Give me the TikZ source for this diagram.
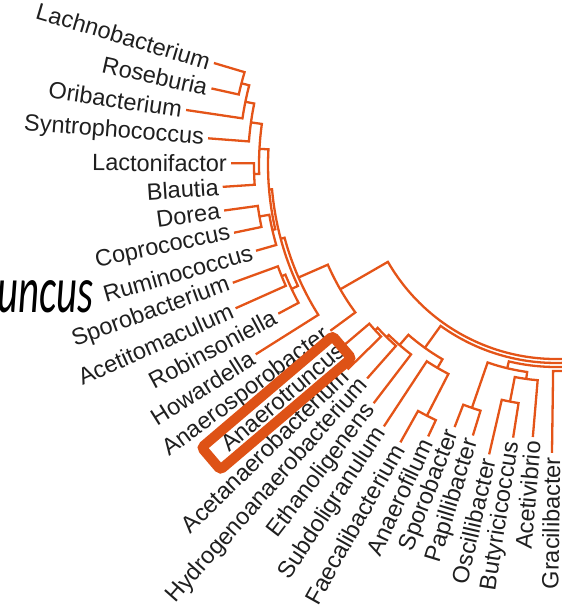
\documentclass[tikz,border=0pt]{standalone}
\usepackage{fontspec}
\setmainfont{Liberation Sans}
\newfontfamily\calfont{Carlito}
\usetikzlibrary{calc}
\definecolor{treec}{RGB}{228,84,24}
\definecolor{boxc}{RGB}{222,82,22}
\newcommand\tclade[5]{\draw[tree] ($(C)+(#1:#2)$) -- ($(C)+(#1:#5)$) arc[start angle=#1,end angle=#3,radius=#5] -- ($(C)+(#3:#4)$);}
\newcommand\topen[4]{\draw[tree] ($(C)+(#1:#2)$) -- ($(C)+(#1:#4)$) arc[start angle=#1,end angle=#3,radius=#4];}
\begin{document}
\begin{tikzpicture}[x=1pt,y=1pt,
  tree/.style={draw=treec,line width=2.3pt},
  lab/.style={font=\fontsize{23.5}{26}\selectfont, inner sep=1pt, anchor=east, text=black!88}]
\useasboundingbox (0,-608) rectangle (562,0);
\clip (0,-608) rectangle (562,0);
\coordinate (C) at (556,-165);
% upper clade
\tclade{163.4}{357}{167.47}{353}{325}
\tclade{165.44}{325}{171.54}{374}{317}
\tclade{168.49}{317}{175.61}{349}{308}
\tclade{179.68}{325}{183.75}{334}{302}
\tclade{172.05}{308}{181.72}{302}{297}
\tclade{187.81}{335}{191.88}{329}{301}
\tclade{189.85}{301}{195.95}{312}{291}
\tclade{176.88}{297}{192.9}{291}{288}
\tclade{200.02}{344}{204.09}{351}{296}
\tclade{202.06}{296}{208.16}{315}{292}
\tclade{184.89}{288}{205.11}{292}{285}
\tclade{195.0}{285}{212.23}{355}{281}
\tclade{203.6}{281}{216.30}{280}{249}
\topen{209.95}{249}{290}{194}
% right clade
\tclade{220.37}{278}{224.44}{292}{245}
\tclade{222.4}{245}{228.5}{285}{241.5}
\tclade{225.45}{241.5}{232.57}{300}{238.5}
\tclade{240.71}{318}{244.78}{300}{282}
\tclade{236.64}{313}{242.75}{282}{235}
\tclade{229.0}{238.5}{239.7}{235}{225}
\topen{234.35}{225}{290}{198}
\tclade{248.85}{281}{252.92}{283}{257}
\tclade{256.99}{297}{261.06}{276}{241}
\tclade{259.0}{241}{265.13}{273}{216}
\tclade{250.9}{257}{262.07}{216}{209}
\topen{256.5}{209}{290}{202}
\topen{269.2}{288}{290}{206}
% labels
\foreach \ang/\r/\txt/\nm [evaluate=\r as \rr using \r+3, evaluate=\ang as \rot using \ang-180] in {
163.4/357/Lachnobacterium/l0,
167.47/353/Roseburia/l1,
171.54/374/Oribacterium/l2,
175.61/349/Syntrophococcus/l3,
179.68/325/Lactonifactor/l4,
183.75/334/Blautia/l5,
187.81/335/Dorea/l6,
191.88/329/Coprococcus/l7,
195.95/312/Ruminococcus/l8,
200.02/344/Sporobacterium/l9,
204.09/351/Acetitomaculum/l10,
208.16/315/Robinsoniella/l11,
212.23/355/Howardella/l12,
216.30/280/Anaerosporobacter/l13,
220.37/278/Anaerotruncus/l14,
224.44/292/Acetanaerobacterium/l15,
228.50/285/Hydrogenoanaerobacterium/l16,
232.57/300/Ethanoligenens/l17,
236.64/313/Subdoligranulum/l18,
240.71/318/Faecalibacterium/l19,
244.78/300/Anaerofilum/l20,
248.85/281/Sporobacter/l21,
252.92/283/Papillibacter/l22,
256.99/297/Oscillibacter/l23,
261.06/276/Butyricicoccus/l24,
265.13/273/Acetivibrio/l25,
269.20/288/Gracilibacter/l26}
  \node[lab, rotate=\rot] (\nm) at ($(C)+(\ang:\rr)$) {\txt};
% highlight box
\node[draw=boxc, line width=10pt, rounded corners=3pt, minimum width=172pt, minimum height=29pt, rotate=40.4] (hlbox) at ($(C)+(220.4:367)$) {};
% cut caption
\node[anchor=base east, inner sep=0pt, xscale=0.62] (cap) at (94,-312) {\calfont\itshape\fontsize{66}{70}\selectfont uncus};
\end{tikzpicture}
\end{document}
